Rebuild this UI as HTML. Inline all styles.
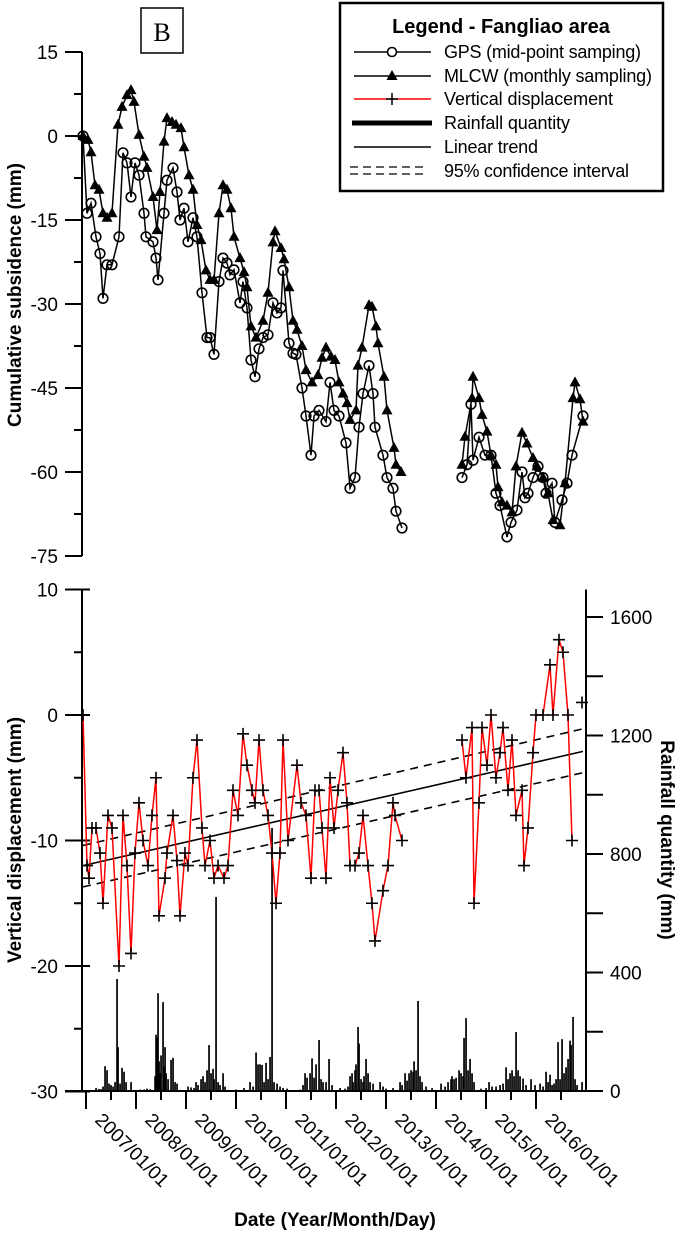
<!DOCTYPE html>
<html><head><meta charset="utf-8"><title>Fangliao area subsidence</title>
<style>
html,body{margin:0;padding:0;background:#fff;}
svg{display:block;font-family:"Liberation Sans",Arial,sans-serif;}
</style></head>
<body>
<svg id="chart" xmlns="http://www.w3.org/2000/svg" width="685" height="1237" viewBox="0 0 685 1237">
<rect x="0" y="0" width="685" height="1237" fill="#fff"/>
<g id="layer"></g>
</svg>
<script>
// ---------- DATA ----------
const mlcwDates = [2006.94,2007.04,2007.10,2007.18,2007.26,2007.34,2007.42,2007.52,2007.64,2007.72,2007.82,2007.90,2007.96,2008.06,2008.16,2008.22,2008.34,2008.42,2008.48,2008.56,2008.62,2008.72,2008.80,2008.90,2008.96,2009.06,2009.14,2009.22,2009.30,2009.40,2009.48,2009.56,2009.66,2009.74,2009.82,2009.90,2009.96,2010.08,2010.16,2010.22,2010.30,2010.40,2010.54,2010.64,2010.74,2010.78,2010.90,2010.96,2011.06,2011.14,2011.22,2011.32,2011.40,2011.52,2011.64,2011.72,2011.80,2011.90,2011.98,2012.06,2012.14,2012.22,2012.28,2012.40,2012.44,2012.52,2012.66,2012.72,2012.80,2012.84,2012.96,2013.02,2013.16,2013.20,2013.30,null,2014.52,2014.58,2014.72,2014.74,2014.86,2014.92,2015.02,2015.10,2015.20,2015.24,2015.32,2015.42,2015.52,2015.60,2015.72,2015.82,2015.94,2016.02,2016.14,2016.24,2016.34,2016.48,2016.58,2016.74,2016.78,2016.88,2016.94];
const mlcwValues = [0,-0.7,-2.9,-8.8,-9.6,-13.8,-14.6,-13.8,2,5.2,7.3,8.2,6.1,0.2,-3.7,-5.7,-10.9,-16.8,-10,-1,3.2,2.5,2,1.4,-2,-7,-9.6,-15.9,-18.6,-24,-25.7,-25.7,-13.8,-8.8,-9.6,-12.9,-18,-21.8,-24.3,-27,-34,-36,-33,-28,-19,-17,-20,-22,-27,-33,-34.6,-37.5,-41.8,-44,-42.7,-39.6,-37.8,-39.4,-40,-44,-46,-47.7,-50.7,-49,-41,-37.8,-30.2,-30.5,-34,-37,-43,-49,-55.7,-58.7,-60,null,-58.7,-53.7,-46.8,-43,-46.8,-49.8,-52.8,-57,-58.7,-62.7,-65.4,-66,-67.2,-59,-53,-54.9,-57.5,-59,-61,-63.8,-68.6,-69.5,-62,-46.8,-44,-47,-51];
const gpsDates = [2006.94,2007.02,2007.10,2007.20,2007.28,2007.34,2007.42,2007.52,2007.66,2007.74,2007.82,2007.90,2007.98,2008.06,2008.16,2008.20,2008.34,2008.40,2008.44,2008.56,2008.62,2008.74,2008.82,2008.88,2008.96,2009.04,2009.14,2009.22,2009.32,2009.42,2009.48,2009.56,2009.66,2009.74,2009.82,2009.88,2009.96,2010.08,2010.14,2010.22,2010.30,2010.38,2010.46,2010.54,2010.64,2010.74,2010.82,2010.90,2010.94,2011.06,2011.14,2011.20,2011.32,2011.40,2011.50,2011.56,2011.66,2011.80,2011.88,2011.96,2012.06,2012.20,2012.28,2012.38,2012.46,2012.54,2012.66,2012.74,2012.78,2012.94,2013.02,2013.14,2013.20,2013.32,null,2014.52,2014.62,2014.70,2014.74,2014.86,2014.98,2015.10,2015.20,2015.28,2015.42,2015.50,2015.62,2015.72,2015.78,2015.84,2015.94,2016.04,2016.14,2016.20,2016.32,2016.38,2016.52,2016.62,2016.72,2016.94];
const gpsValues = [0,-13.8,-12,-18,-21,-29,-23,-23,-18,-3,-4.8,-10.9,-4.8,-7,-13.8,-18,-18.9,-21.8,-25.7,-13.8,-7.9,-5.7,-10,-15,-12.9,-18.9,-14.6,-18,-28,-36,-36,-39,-26,-21.8,-22.7,-24.8,-23.9,-29.8,-26,-30.7,-40,-43,-38,-36,-35.5,-29.8,-31.6,-30.7,-24,-37,-38.8,-39,-45,-50,-57,-50,-49,-51,-44,-49,-50,-54.8,-62.9,-61,-52,-46,-41,-46,-52,-57,-61,-62.9,-67,-70,null,-61,-58.7,-47.9,-57.9,-53.8,-57,-57,-63.8,-66,-71.6,-69,-66.8,-60,-64.6,-63.8,-61,-59,-61,-63.8,-62,-69,-65,-62,-57,-50];
const dispDates = [2006.94,2007.02,2007.06,2007.12,2007.20,2007.28,2007.34,2007.44,2007.52,2007.66,2007.74,2007.82,2007.90,2007.98,2008.06,2008.14,2008.24,2008.32,2008.40,2008.46,2008.58,2008.62,2008.74,2008.82,2008.88,2008.98,2009.04,2009.14,2009.22,2009.32,2009.38,2009.48,2009.56,2009.64,2009.76,2009.84,2009.94,2010.04,2010.14,2010.22,2010.32,2010.38,2010.46,2010.54,2010.64,2010.72,2010.80,2010.88,2010.94,2011.04,2011.22,2011.30,2011.40,2011.50,2011.58,2011.66,2011.72,2011.80,2011.88,2011.96,2012.04,2012.14,2012.22,2012.28,2012.38,2012.46,2012.54,2012.64,2012.72,2012.78,2012.94,2013.04,2013.14,2013.18,2013.32,null,2014.52,2014.60,2014.72,2014.76,2014.86,2014.92,2015.02,2015.10,2015.20,2015.28,2015.34,2015.44,2015.52,2015.60,2015.72,2015.76,2015.84,2015.94,2016.00,2016.14,2016.28,2016.34,2016.46,2016.54,2016.64,2016.72];
const dispValues = [0,-12,-13,-9,-9,-11,-15,-8,-9,-20,-8,-12,-19,-11,-7,-10,-12,-8,-5,-16,-13,-11,-8,-11.6,-16,-11,-12,-5,-2,-9,-12,-10,-13,-12,-13,-12,-6,-8,-1.5,-4,-6,-7,-2,-6,-8,-11,-15,-11,-2,-10,-4,-7,-8,-13,-6,-6,-9,-13,-5,-9,-6,-3,-7,-12,-12,-11,-8,-12,-15,-18,-14,-12,-7,-8,-10,null,-2,-5,-1,-15,-7,-1,-4,0,-5,-3,-1,-6,-2,-8,-6,-12,-9,-3,0,0,4,0,6,5,0,-10];
const extraDispDates = [2016.92];
const extraDispValues = [1];
const trendDates = [2006.94,2016.94];
const trendValues = [-12,-2.9];
const ciUpperValues = [-10.4,-1.1];
const ciLowerValues = [-13.7,-4.6];
const rainDates = [2006.96,2007.04,2007.20,2007.26,2007.30,2007.34,2007.38,2007.42,2007.46,2007.50,2007.54,2007.58,2007.62,2007.64,2007.68,2007.72,2007.76,2007.80,2007.90,2008.08,2008.16,2008.22,2008.28,2008.38,2008.40,2008.42,2008.44,2008.46,2008.48,2008.50,2008.54,2008.56,2008.58,2008.60,2008.64,2008.70,2008.74,2008.78,2008.82,2009.04,2009.10,2009.16,2009.20,2009.24,2009.30,2009.34,2009.38,2009.42,2009.46,2009.50,2009.54,2009.56,2009.60,2009.64,2009.68,2009.74,2009.78,2010.00,2010.16,2010.28,2010.34,2010.40,2010.44,2010.48,2010.52,2010.56,2010.60,2010.64,2010.68,2010.72,2010.76,2010.82,2010.88,2010.94,2011.02,2011.28,2011.34,2011.38,2011.42,2011.48,2011.52,2011.56,2011.60,2011.66,2011.70,2011.74,2011.80,2011.86,2011.92,2012.08,2012.18,2012.24,2012.28,2012.32,2012.34,2012.38,2012.40,2012.44,2012.46,2012.50,2012.54,2012.56,2012.60,2012.64,2012.68,2012.74,2012.88,2012.94,2013.00,2013.14,2013.28,2013.32,2013.38,2013.42,2013.46,2013.50,2013.54,2013.56,2013.60,2013.64,2013.68,2013.72,2013.80,2013.92,2014.10,2014.18,2014.24,2014.30,2014.32,2014.36,2014.40,2014.46,2014.50,2014.54,2014.56,2014.60,2014.64,2014.68,2014.72,2014.76,2014.90,2015.00,2015.06,2015.12,2015.20,2015.28,2015.34,2015.40,2015.44,2015.48,2015.52,2015.56,2015.60,2015.64,2015.68,2015.74,2015.80,2015.90,2015.98,2016.08,2016.14,2016.20,2016.24,2016.28,2016.32,2016.36,2016.40,2016.44,2016.48,2016.52,2016.56,2016.60,2016.64,2016.68,2016.70,2016.74,2016.78,2016.82,2016.92];
const rainValues = [3,2,10,7,6,15,84,70,25,20,15,30,378,148,25,78,65,30,30,5,5,8,6,50,190,180,330,100,60,120,300,80,148,60,40,105,112,30,25,15,12,10,30,20,40,50,30,70,155,60,75,40,655,30,20,60,15,5,10,30,15,130,90,90,88,30,95,40,115,888,30,25,15,10,8,5,20,60,45,60,110,45,90,172,40,30,30,108,20,10,8,15,50,60,30,70,90,216,160,40,30,50,108,60,30,25,30,15,8,10,30,20,60,35,60,70,65,100,70,304,50,30,15,10,25,15,30,40,50,40,45,70,60,50,179,246,70,108,60,30,8,10,30,15,15,20,25,80,40,60,70,50,199,70,50,42,20,40,20,25,15,65,30,55,20,25,40,165,40,175,60,80,108,170,155,250,40,20,30];
const topTicks = [15,0,-15,-30,-45,-60,-75];
const dispTicks = [10,0,-10,-20,-30];
const rainTicks = [1600,1200,800,400,0];
const yearTicks = [2007,2008,2009,2010,2011,2012,2013,2014,2015,2016];
const yearLabels = ["2007/01/01","2008/01/01","2009/01/01","2010/01/01","2011/01/01","2012/01/01","2013/01/01","2014/01/01","2015/01/01","2016/01/01"];

// ---------- AXES FUNCTIONS ----------
const X = yr => 86 + (yr - 2007) * 50;
const YT = v => 136 - v * 84 / 15;
const YB = v => 715 - v * 12.55;
const YR = mm => 1091 - mm * 118.5 / 400;

const NS = "http://www.w3.org/2000/svg";
const layer = document.getElementById('layer');
function mk(tag, attrs, parent) {
  const e = document.createElementNS(NS, tag);
  for (const k in attrs) e.setAttribute(k, attrs[k]);
  (parent || layer).appendChild(e);
  return e;
}
function segs(dates, vals, yf) {
  let d = "", pen = false;
  for (let i = 0; i < dates.length; i++) {
    if (dates[i] === null || vals[i] === null) { pen = false; continue; }
    d += (pen ? "L" : "M") + X(dates[i]).toFixed(1) + " " + yf(vals[i]).toFixed(1);
    pen = true;
  }
  return d;
}

// ---------- TOP PANEL AXIS ----------
const topAxis = mk('g', {});


mk('line', {x1:82, y1:YT(15), x2:82, y2:YT(-75), stroke:'#000', 'stroke-width':2}, topAxis);
for (let v = 15; v >= -75; v -= 7.5) {
  const major = topTicks.includes(v);
  mk('line', {x1:major?65:74, y1:YT(v), x2:82, y2:YT(v), stroke:'#000', 'stroke-width':2}, topAxis);
}
topTicks.forEach(v => {
  const t = mk('text', {x:58, y:YT(v)+7, 'text-anchor':'end', 'font-size':19}, topAxis);
  
  
  t.textContent = String(v);
});
const tt = mk('text', {x:0, y:0, 'text-anchor':'middle', 'font-size':19, 'font-weight':'bold', transform:'translate(21,295) rotate(-90)'});


tt.textContent = 'Cumulative subsidence (mm)';

// ---------- TOP SERIES ----------
const mlcwG = mk('g', {});


mk('path', {d:segs(mlcwDates, mlcwValues, YT), fill:'none', stroke:'#000', 'stroke-width':1.5}, mlcwG);
mlcwDates.forEach((d, i) => {
  if (d === null) return;
  const cx = X(d), cy = YT(mlcwValues[i]);
  const p = mk('path', {d:`M${cx} ${cy-6}L${cx+5.5} ${cy+4}L${cx-5.5} ${cy+4}Z`, fill:'#000'}, mlcwG);
  
  
});
const gpsG = mk('g', {});


mk('path', {d:segs(gpsDates, gpsValues, YT), fill:'none', stroke:'#000', 'stroke-width':1.5}, gpsG);
gpsDates.forEach((d, i) => {
  if (d === null) return;
  const c = mk('circle', {cx:X(d), cy:YT(gpsValues[i]), r:4.8, fill:'none', stroke:'#000', 'stroke-width':1.6}, gpsG);
  
  
});

// ---------- BOTTOM AXES ----------
const botL = mk('g', {});


mk('line', {x1:82, y1:YB(10), x2:82, y2:YB(-30), stroke:'#000', 'stroke-width':2}, botL);
for (let v = 10; v >= -30; v -= 5) {
  const major = dispTicks.includes(v);
  mk('line', {x1:major?65:74, y1:YB(v), x2:major?90:82, y2:YB(v), stroke:'#000', 'stroke-width':2}, botL);
}
dispTicks.forEach(v => {
  const t = mk('text', {x:58, y:YB(v)+7, 'text-anchor':'end', 'font-size':19}, botL);
  
  
  t.textContent = String(v);
});
const bt = mk('text', {x:0, y:0, 'text-anchor':'middle', 'font-size':19, 'font-weight':'bold', transform:'translate(21,840) rotate(-90)'});


bt.textContent = 'Vertical displacement (mm)';

const botR = mk('g', {});


mk('line', {x1:586, y1:YB(10), x2:586, y2:1091, stroke:'#000', 'stroke-width':2}, botR);
for (let mm = 0; mm <= 1600; mm += 200) {
  mk('line', {x1:586, y1:YR(mm), x2:603, y2:YR(mm), stroke:'#000', 'stroke-width':2}, botR);
}
rainTicks.forEach(mm => {
  const t = mk('text', {x:610, y:YR(mm)+7, 'text-anchor':'start', 'font-size':19}, botR);
  
  
  t.textContent = String(mm);
});
const rt = mk('text', {x:0, y:0, 'text-anchor':'middle', 'font-size':19, 'font-weight':'bold', transform:'translate(661,840) rotate(90)'});


rt.textContent = 'Rainfall quantity (mm)';

// x axis
const xa = mk('g', {});


mk('line', {x1:65, y1:1091, x2:603, y2:1091, stroke:'#000', 'stroke-width':2}, xa);
yearTicks.forEach((yr, i) => {
  mk('line', {x1:X(yr), y1:1091, x2:X(yr), y2:1109, stroke:'#000', 'stroke-width':2}, xa);
  mk('line', {x1:X(yr+0.5), y1:1091, x2:X(yr+0.5), y2:1100, stroke:'#000', 'stroke-width':2}, xa);
  const t = mk('text', {x:0, y:0, 'font-size':19, transform:`translate(${X(yr)+8},${1121}) rotate(45)`}, xa);
  
  
  t.textContent = yearLabels[i];
});
const xt = mk('text', {x:335, y:1226, 'text-anchor':'middle', 'font-size':19, 'font-weight':'bold'});


xt.textContent = 'Date (Year/Month/Day)';

// ---------- RAINFALL BARS ----------
const rainG = mk('g', {});


rainDates.forEach((d, i) => {
  const y = YR(rainValues[i]);
  const r = mk('rect', {x:X(d)-0.8, y:y, width:1.7, height:1091-y, fill:'#000'}, rainG);
  
  
});

// ---------- TREND + CI ----------
const tr = mk('path', {d:segs(trendDates, trendValues, YB), stroke:'#000', 'stroke-width':1.6, fill:'none'});


const cu = mk('path', {d:segs(trendDates, ciUpperValues, YB), stroke:'#000', 'stroke-width':1.6, fill:'none', 'stroke-dasharray':'8 6'});


const cl = mk('path', {d:segs(trendDates, ciLowerValues, YB), stroke:'#000', 'stroke-width':1.6, fill:'none', 'stroke-dasharray':'8 6'});



// ---------- DISPLACEMENT ----------
const dG = mk('g', {});


mk('path', {d:segs(dispDates, dispValues, YB), fill:'none', stroke:'#ff0000', 'stroke-width':1.5}, dG);
function cross(d, v) {
  const cx = X(d), cy = YB(v);
  const p = mk('path', {d:`M${cx-6} ${cy}H${cx+6}M${cx} ${cy-6}V${cy+6}`, stroke:'#000', 'stroke-width':1.6}, dG);
  
  
}
dispDates.forEach((d, i) => { if (d !== null) cross(d, dispValues[i]); });
extraDispDates.forEach((d, i) => cross(d, extraDispValues[i]));
</script>

<svg style="position:absolute;left:0;top:0" width="685" height="240">
  <g>
    <rect x="141" y="8" width="42" height="45" fill="#fff" stroke="#000" stroke-width="1.5"/>
    <text x="162" y="41" text-anchor="middle" font-family="'Liberation Serif',serif" font-size="26">B</text>
  </g>
  <g font-family="'Liberation Sans',sans-serif">
    <rect x="340" y="3" width="323" height="188" fill="#fff" stroke="#000" stroke-width="2.5"/>
    <text x="501" y="33" text-anchor="middle" font-size="20" font-weight="bold">Legend - Fangliao area</text>
    <g>
      <line x1="354" y1="52" x2="431" y2="52" stroke="#000" stroke-width="1.5"/>
      <circle cx="392" cy="52" r="4.5" fill="#fff" stroke="#000" stroke-width="1.6"/>
      <text x="444" y="58" font-size="18" textLength="197">GPS (mid-point samping)</text>
    </g>
    <g>
      <line x1="354" y1="76" x2="431" y2="76" stroke="#000" stroke-width="1.5"/>
      <path d="M392 70L397.5 80L386.5 80Z" fill="#000"/>
      <text x="444" y="82" font-size="18" textLength="208">MLCW (monthly sampling)</text>
    </g>
    <g>
      <line x1="354" y1="99" x2="431" y2="99" stroke="#ff0000" stroke-width="1.5"/>
      <path d="M386 99H398M392 93V105" stroke="#000" stroke-width="1.5"/>
      <text x="444" y="105" font-size="18" textLength="169">Vertical displacement</text>
    </g>
    <g>
      <line x1="352" y1="123" x2="432" y2="123" stroke="#000" stroke-width="5"/>
      <text x="444" y="129" font-size="18" textLength="126">Rainfall quantity</text>
    </g>
    <g>
      <line x1="354" y1="147" x2="431" y2="147" stroke="#000" stroke-width="1.5"/>
      <text x="444" y="153" font-size="18" textLength="94">Linear trend</text>
    </g>
    <g>
      <line x1="350" y1="167" x2="428" y2="167" stroke="#000" stroke-width="1.3" stroke-dasharray="8 5"/>
      <line x1="350" y1="174" x2="428" y2="174" stroke="#000" stroke-width="1.3" stroke-dasharray="8 5"/>
      <text x="444" y="177" font-size="18" textLength="185">95% confidence interval</text>
    </g>
  </g>
</svg>
</body></html>
